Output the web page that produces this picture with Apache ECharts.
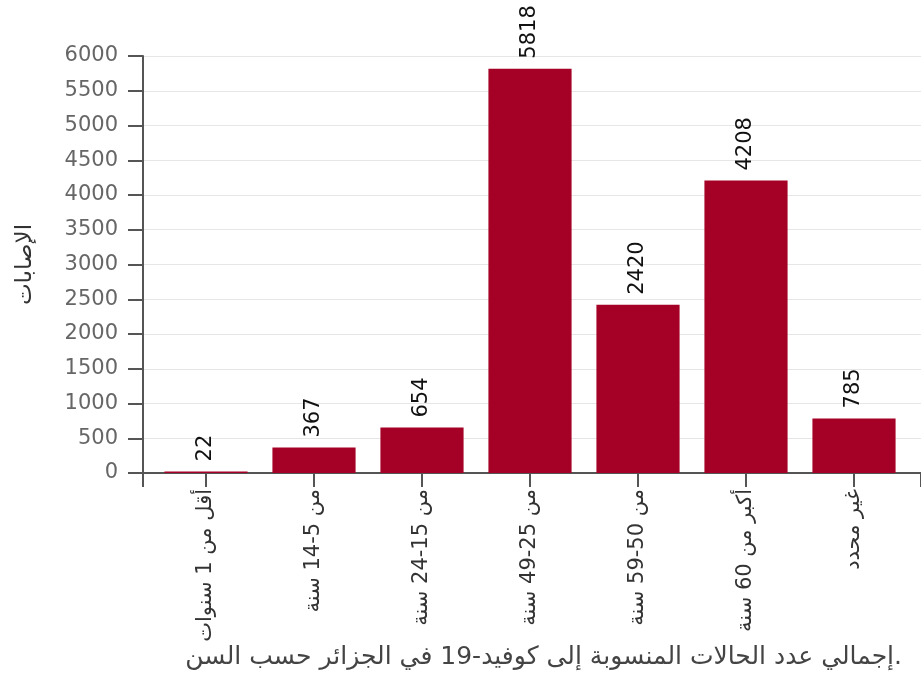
<!DOCTYPE html>
<html>
<head>
<meta charset="utf-8">
<script src="https://cdn.jsdelivr.net/npm/echarts@6/dist/echarts.min.js"></script>
<style>html,body{margin:0;padding:0;background:#fff}#c{width:921px;height:677px}</style>
</head>
<body>
<div id="c"></div>
<script>
const categories = ["أقل من 1 سنوات", "من 5-14 سنة", "من 15-24 سنة", "من 25-49 سنة", "من 50-59 سنة", "أكبر من 60 سنة", "غير محدد"];
const cases = [22, 367, 654, 5818, 2420, 4208, 785];
const yTicks = {min: 0, max: 6000, interval: 500};
const titleText = "إجمالي عدد الحالات المنسوبة إلى كوفيد-19 في الجزائر حسب السن.";
const yName = "الإصابات";

const FONT = "DejaVu Sans";
const AX = "#555555";
const chart = echarts.init(document.getElementById('c'), null, {renderer: 'canvas'});
chart.setOption({
  animation: false,
  backgroundColor: '#ffffff',
  textStyle: {fontFamily: FONT},
  title: {
    text: titleText, right: 14, top: 640,
    textStyle: {fontFamily: FONT, fontSize: 25, fontWeight: 'normal', color: '#444444'}
  },
  grid: [
    {left: 143, right: 0, top: 56, bottom: 204},
    {left: 152, right: 13, top: 56, bottom: 204}
  ],
  xAxis: [
    {gridIndex: 0, type: 'value', min: 0, max: 1, interval: 1,
     axisLine: {show: true, lineStyle: {color: AX, width: 2}},
     axisTick: {show: true, length: 14, lineStyle: {color: AX, width: 2}},
     axisLabel: {show: false}, splitLine: {show: false}},
    {gridIndex: 1, type: 'category', data: categories,
     axisLine: {show: false},
     axisTick: {show: true, alignWithLabel: true, length: 14, lineStyle: {color: AX, width: 2}},
     axisLabel: {rotate: 90, margin: 16, fontSize: 21, color: '#333333', fontFamily: FONT, interval: 0}}
  ],
  yAxis: [
    {gridIndex: 0, type: 'value', min: yTicks.min, max: yTicks.max, interval: yTicks.interval,
     name: yName, nameLocation: 'middle', nameRotate: 90, nameGap: 106,
     nameTextStyle: {fontSize: 23, color: '#333333', fontFamily: FONT},
     axisLine: {show: true, lineStyle: {color: AX, width: 2}},
     axisTick: {show: true, length: 15, lineStyle: {color: AX, width: 2}},
     axisLabel: {margin: 25, fontSize: 21, color: '#666666', fontFamily: FONT,
                 formatter: v => String(v)},
     splitLine: {show: true, lineStyle: {color: '#e6e6e6', width: 1}}},
    {gridIndex: 1, type: 'value', min: yTicks.min, max: yTicks.max, interval: yTicks.interval, show: false}
  ],
  series: [{
    type: 'bar', xAxisIndex: 1, yAxisIndex: 1, data: cases,
    barCategoryGap: '23%',
    itemStyle: {color: '#a50026'},
    label: {show: true, position: 'top', distance: 10, rotate: 90, align: 'left', verticalAlign: 'middle',
            fontSize: 21, color: '#111111', fontFamily: FONT}
  }]
});
</script>
</body>
</html>
